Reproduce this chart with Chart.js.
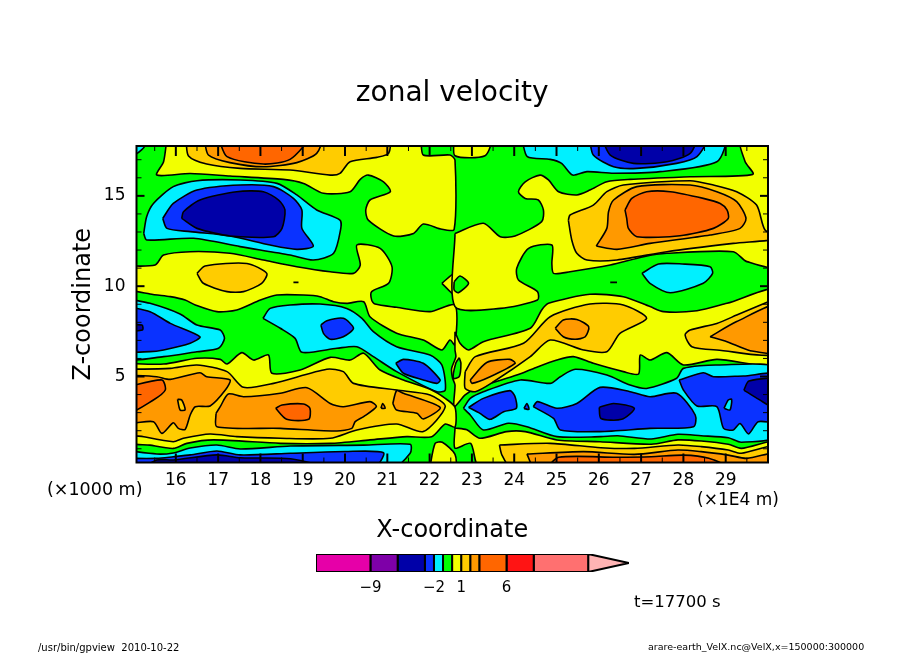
<!DOCTYPE html>
<html>
<head>
<meta charset="utf-8">
<title>zonal velocity</title>
<script src="https://cdn.jsdelivr.net/npm/chart.js@4"></script>
<style>
  html, body { margin: 0; background: #fff; }
  #wrap { position: relative; width: 904px; height: 654px; }
  canvas { position: absolute; left: 0; top: 0; }
</style>
</head>
<body>
<div id="wrap">
  <canvas id="field" width="904" height="654"></canvas>
  <canvas id="bar" width="904" height="654"></canvas>
</div>
<script>
// axis ticks, x in 1E4 m, z in 1000 m
var xMajor = [16, 17, 18, 19, 20, 21, 22, 23, 24, 25, 26, 27, 28, 29];
var xMinor = [15.5, 16.5, 17.5, 18.5, 19.5, 20.5, 21.5, 22.5, 23.5, 24.5, 25.5, 26.5, 27.5, 28.5, 29.5];
var zMajor = [5, 10, 15];
var zMinor = [1, 2, 3, 4, 6, 7, 8, 9, 11, 12, 13, 14, 16, 17];

// colour bar
var levels = [-15, -9, -6, -3, -2, -1, 0, 1, 2, 3, 6, 9, 15];
var levelTicks = [-9, -2, 1, 6];
var arrowTip = 19.5;

// contour regions, [x, z]; regions that run off the frame overshoot it
var greenBase = [[15, 0], [30.1, 0], [30.1, 18], [15, 18]];
var cornerCyan = [[15.04, 18.2], [15.27, 17.8], [15.06, 17.32], [14.8, 17.32]];
var yellowTop = [[15.79, 18.2], [15.71, 16.89], [15.55, 16.15], [16.34, 16.24], [17.28, 16.1], [18.54, 15.91], [19.02, 15.69], [19.49, 15.14], [20.12, 15.23], [20.36, 15.91], [20.55, 16.15], [20.91, 15.78], [21.07, 15.23], [20.59, 14.77], [20.49, 14.22], [20.55, 13.66], [21.15, 12.78], [21.62, 12.92], [21.85, 13.44], [22.29, 13.15], [22.58, 13.15], [22.6, 16.98], [22.48, 17.26], [21.85, 17.26], [21.74, 18.2]];
var amberTop = [[16.24, 18.2], [16.3, 17.2], [16.73, 16.76], [17.52, 16.52], [18.7, 16.43], [19.65, 16.15], [19.88, 16.24], [20.12, 16.89], [20.75, 17.13], [21.03, 17.35], [21.03, 18.2]];
var orangeTop = [[16.67, 18.2], [16.77, 17.26], [17.28, 16.84], [18.07, 16.61], [18.86, 16.84], [19.33, 17.35], [19.43, 18.2]];
var darkTop = [[17.01, 18.2], [17.21, 17.17], [18.07, 16.76], [18.7, 17.02], [19.1, 18.2]];
var cyanLeft = [[15.24, 12.92], [15.31, 13.85], [15.47, 14.58], [15.94, 15.51], [16.5, 15.84], [17.52, 15.88], [18.39, 15.69], [18.86, 15.05], [19.33, 14.22], [19.88, 13.66], [19.9, 13.2], [19.73, 11.82], [19.25, 11.45], [18.7, 11.73], [17.52, 12.19], [16.42, 12.65], [15.31, 12.56]];
var blueLeft = [[15.69, 13.75], [15.94, 14.58], [16.5, 15.32], [17.52, 15.6], [18.31, 15.51], [18.78, 14.86], [18.98, 14.22], [18.98, 13.2], [19.25, 12.22], [18.86, 12.04], [18.23, 12.28], [17.28, 12.78], [16.34, 13.02], [15.79, 13.2]];
var navyLeft = [[16.14, 13.75], [16.18, 14.12], [16.57, 14.77], [17.44, 15.23], [18.07, 15.23], [18.43, 14.77], [18.58, 14.22], [18.51, 13.2], [18.31, 12.74], [17.28, 12.78], [16.5, 13.2]];
var yellowMid = [[14.8, 11.12], [15.51, 11.17], [15.71, 11.72], [16.34, 11.91], [17.28, 11.82], [18.07, 11.45], [18.86, 11.08], [19.65, 10.8], [20.2, 10.71], [20.36, 11.17], [20.28, 12.28], [20.83, 12.09], [21.11, 11.08], [21.03, 10.16], [20.63, 9.7], [20.63, 9.23], [20.71, 9.01], [21.22, 8.83], [22.01, 8.59], [22.6, 8.96], [22.6, 6.74], [22.48, 7.02], [22.29, 6.47], [21.85, 7.02], [21.22, 7.4], [20.59, 8.31], [20.44, 9.14], [20.04, 9.05], [19.73, 9.14], [19.41, 9.42], [19.02, 9.51], [18.39, 9.51], [18.0, 9.23], [17.44, 8.68], [16.97, 8.59], [16.46, 8.96], [16.22, 9.23], [15.87, 9.42], [15.39, 9.57], [14.8, 9.94]];
var yellowWedge = [[22.29, 10.16], [22.6, 10.71], [22.6, 9.51]];
var amberMid = [[16.5, 10.71], [16.69, 11.12], [17.68, 11.26], [18.15, 10.71], [18.03, 10.16], [17.6, 9.7], [17.21, 9.7], [16.65, 10.16]];
var dashLeft = [[18.78, 10.21], [18.9, 10.21]];
var dashRight = [[26.27, 10.21], [26.43, 10.21]];
var yellowRight = [[22.6, 12.92], [23.27, 13.48], [23.67, 12.74], [24.02, 12.78], [24.65, 13.57], [24.69, 14.22], [24.57, 14.77], [24.26, 14.86], [24.1, 15.23], [24.26, 15.78], [24.61, 16.15], [24.81, 15.88], [25.05, 15.23], [25.48, 15.05], [25.79, 15.32], [26.19, 15.78], [26.74, 15.91], [28.16, 16.06], [29.64, 16.19], [29.46, 16.89], [29.34, 18.2], [30.3, 18.2], [30.3, 11.12], [29.5, 11.36], [29.18, 11.91], [27.61, 11.82], [27.06, 11.63], [26.27, 11.17], [25.32, 10.8], [24.93, 10.71], [24.89, 11.26], [24.89, 12.28], [24.34, 12.09], [24.06, 10.99], [24.1, 10.34], [24.55, 9.7], [24.55, 9.23], [23.67, 8.77], [22.6, 8.87]];
var amberRight = [[25.28, 13.66], [25.32, 13.94], [25.87, 14.49], [26.19, 15.23], [26.58, 15.6], [28.16, 15.84], [28.71, 15.6], [29.26, 15.23], [29.73, 14.49], [29.93, 13.11], [30.3, 12.65], [29.18, 12.37], [27.61, 11.91], [26.43, 11.45], [25.72, 11.45], [25.48, 11.82], [25.36, 12.56]];
var orangeRight = [[25.94, 12.22], [26.19, 13.2], [26.23, 14.12], [26.35, 14.77], [26.9, 15.51], [28.16, 15.6], [28.79, 15.23], [29.26, 14.68], [29.48, 13.75], [29.34, 13.2], [28.63, 12.83], [27.21, 12.37], [26.43, 12.04]];
var darkRight = [[26.62, 14.22], [26.78, 14.86], [27.13, 15.23], [27.69, 15.23], [28.47, 14.86], [28.87, 14.58], [29.03, 14.22], [29.06, 13.75], [28.71, 13.2], [27.92, 12.79], [26.9, 12.74], [26.7, 13.2], [26.66, 13.75]];
var yellowTopMid = [[22.58, 18.2], [23.45, 18.2], [23.31, 17.22], [22.6, 17.22]];
var cyanTopRight = [[24.18, 18.2], [24.31, 17.17], [24.85, 17.02], [25.12, 16.8], [25.38, 16.15], [25.72, 16.34], [26.35, 16.25], [27.45, 16.34], [28.79, 16.89], [28.96, 18.2]];
var blueTopRight = [[25.78, 18.2], [25.87, 17.26], [26.35, 16.61], [26.9, 16.52], [27.84, 16.8], [28.32, 17.17], [28.54, 18.2]];
var navyTopRight = [[26.07, 18.2], [26.27, 17.26], [26.82, 16.8], [27.61, 16.89], [28.16, 17.35], [28.28, 18.2]];
var cyanBlob = [[27.02, 10.71], [27.41, 11.23], [27.97, 11.23], [28.63, 11.08], [28.69, 10.71], [28.47, 10.16], [27.69, 9.64], [27.21, 10.16]];
var greenDot = [[22.58, 10.25], [22.72, 10.56], [22.92, 10.16], [22.68, 9.64], [22.58, 9.79]];
var yellowLowRight = [[22.6, 7.48], [22.72, 6.84], [22.92, 6.47], [23.27, 6.93], [24.38, 7.67], [24.65, 8.68], [24.81, 9.05], [25.79, 9.55], [26.58, 9.42], [27.21, 8.87], [27.53, 8.59], [28.32, 8.64], [29.03, 9.05], [30.3, 9.82], [30.3, 5.73], [28.79, 5.95], [28.0, 5.64], [27.61, 6.32], [27.21, 5.91], [26.98, 6.19], [26.94, 5.14], [26.58, 5.27], [25.87, 5.73], [25.4, 6.1], [25.01, 5.91], [24.46, 5.45], [24.06, 5.08], [23.15, 4.4], [22.84, 3.98], [22.58, 3.33], [22.6, 4.53], [22.54, 4.93], [22.52, 5.45], [22.62, 6.09], [22.6, 6.47]];
var greenOval = [[22.7, 6.04], [22.74, 5.73], [22.7, 4.99], [22.56, 4.9], [22.62, 5.75]];
var amberLowRight = [[22.84, 5.27], [23.08, 6.1], [24.22, 6.84], [24.85, 8.31], [25.79, 9.01], [26.58, 8.96], [27.13, 8.22], [26.5, 7.39], [26.19, 6.37], [25.64, 6.47], [24.85, 7.02], [24.38, 6.1], [23.51, 4.71], [23.08, 4.16], [22.84, 4.34]];
var orangeLowRight = [[24.97, 7.67], [25.16, 8.13], [25.48, 8.16], [25.76, 7.76], [25.68, 7.2], [25.44, 7.06], [25.16, 7.2]];
var orangeCenter = [[22.96, 4.81], [23.35, 5.78], [23.9, 5.95], [24.02, 5.73], [23.43, 4.99], [23.0, 4.62]];
var amberEdge = [[30.3, 9.43], [29.26, 8.4], [28.79, 7.94], [28.16, 7.57], [28.04, 7.3], [28.2, 6.65], [28.79, 6.47], [30.3, 6.32]];
var orangeEdge = [[28.63, 7.2], [29.26, 8.04], [30.3, 9.0], [30.3, 6.37], [29.58, 6.43], [29.03, 6.93]];
var cyanLowRight = [[22.8, 3.24], [22.96, 3.79], [23.27, 4.16], [24.14, 4.81], [24.85, 4.62], [25.09, 4.99], [25.44, 5.4], [26.19, 5.08], [26.74, 4.53], [27.13, 4.34], [27.84, 4.9], [28.0, 5.45], [28.79, 5.64], [30.3, 5.4], [30.3, 1.78], [29.37, 1.36], [29.06, 1.61], [28.42, 1.72], [27.87, 1.8], [27.24, 1.54], [26.45, 1.72], [26.05, 1.67], [25.01, 1.67], [24.3, 2.22], [23.86, 2.41], [23.27, 2.04], [22.96, 2.87]];
var blueA = [[22.92, 3.29], [23.27, 3.79], [23.9, 4.22], [24.02, 3.88], [24.05, 3.24], [23.75, 3.05], [23.43, 2.63], [23.19, 2.96]];
var blueB = [[24.45, 3.33], [24.55, 3.61], [25.01, 3.24], [25.48, 3.51], [26.03, 4.4], [26.74, 4.16], [27.21, 3.88], [27.84, 4.07], [28.28, 2.87], [28.24, 2.22], [27.21, 2.13], [26.03, 1.95], [25.09, 2.04], [24.93, 2.68]];
var blueC = [[27.9, 4.81], [28.47, 5.21], [28.71, 4.99], [29.42, 5.03], [30.3, 5.08], [30.3, 2.5], [29.77, 2.5], [29.54, 1.82], [29.34, 2.4], [29.18, 2.04], [28.95, 2.13], [28.79, 3.33], [28.32, 3.37], [28.0, 4.25]];
var cyanHole = [[28.96, 3.24], [29.06, 3.7], [29.14, 3.74], [29.1, 3.15]];
var navyEdge = [[29.43, 4.25], [29.55, 4.75], [30.3, 4.81], [30.3, 3.13], [29.74, 3.79]];
var navyMid = [[26.01, 3.29], [26.35, 3.51], [26.84, 3.24], [26.54, 2.63], [26.05, 2.68]];
var blueTear = [[24.23, 3.23], [24.3, 3.51], [24.35, 3.18]];
var yellowFloor = [[22.6, 2.15], [22.88, 2.05], [23.19, 1.58], [23.82, 1.95], [24.26, 1.95], [25.01, 1.49], [26.03, 1.39], [27.24, 1.25], [27.87, 1.49], [28.42, 1.43], [29.06, 1.25], [29.37, 1.02], [30.3, 1.45], [30.3, -0.1], [23.2, -0.1], [22.97, 1.3], [22.6, 1.03]];
var amberFloor = [[23.65, 1.21], [24.85, 1.3], [26.05, 1.06], [26.84, 1.02], [27.87, 1.21], [28.42, 1.12], [29.06, 0.93], [29.37, 0.75], [30.3, 1.2], [30.3, -0.1], [23.95, -0.1], [23.71, 0.65]];
var orangeFloor = [[24.3, 0.71], [25.64, 0.84], [26.84, 0.69], [27.87, 0.93], [28.42, 0.84], [29.06, 0.65], [29.5, 0.47], [30.3, 0.8], [30.3, -0.1], [24.5, -0.1]];
var darkFloor = [[24.75, -0.1], [25.05, 0.53], [26.42, 0.53], [27.24, 0.56], [28.0, 0.65], [28.6, 0.47], [29.1, -0.1]];
var cyanEdge = [[14.8, 9.33], [15.39, 9.05], [16.1, 8.46], [16.5, 7.85], [17.05, 7.57], [17.15, 7.11], [17.01, 6.56], [16.5, 6.37], [15.71, 6.1], [14.8, 6.06]];
var blueEdge = [[14.8, 8.9], [15.39, 8.59], [15.87, 7.94], [16.57, 7.2], [16.34, 6.84], [15.71, 6.47], [15.39, 6.38], [14.8, 6.47]];
var navySpot = [[14.8, 7.85], [15.2, 7.85], [15.21, 7.57], [14.8, 7.54]];
var cyanMid = [[18.06, 8.22], [18.23, 8.77], [18.7, 8.96], [19.41, 9.01], [20.04, 8.77], [20.4, 8.22], [20.67, 7.48], [21.22, 6.65], [22.01, 6.19], [22.29, 5.64], [22.37, 4.25], [22.17, 4.16], [21.22, 5.27], [20.67, 6.1], [20.28, 6.65], [19.81, 6.56], [18.98, 6.34], [18.82, 7.11], [18.47, 7.67]];
var blueMidA = [[19.43, 7.85], [19.57, 8.09], [19.96, 8.22], [20.2, 7.67], [19.96, 7.2], [19.65, 7.06], [19.49, 7.39]];
var blueMidB = [[21.2, 5.73], [21.38, 5.95], [21.85, 5.73], [22.25, 4.81], [22.17, 4.62], [21.85, 4.81], [21.38, 5.18]];
var yellowLowLeft = [[14.8, 5.73], [15.71, 5.69], [16.5, 6.01], [17.05, 5.95], [17.21, 5.69], [17.56, 6.32], [17.84, 5.91], [18.19, 6.19], [18.27, 5.18], [18.94, 5.36], [19.65, 6.06], [20.12, 5.91], [20.44, 6.29], [20.83, 5.36], [21.38, 4.81], [22.01, 4.29], [22.37, 3.79], [22.6, 3.3], [22.6, 2.2], [22.37, 2.37], [22.05, 1.67], [21.46, 1.67], [20.59, 1.49], [19.65, 1.3], [18.47, 1.3], [16.89, 1.49], [16.26, 1.3], [15.94, 1.02], [15.39, 1.2], [14.8, 1.45]];
var amberLowLeft = [[14.8, 5.4], [15.87, 5.45], [16.5, 5.64], [17.21, 5.27], [17.6, 4.4], [18.31, 4.62], [19.57, 5.4], [19.96, 5.27], [20.2, 4.62], [21.22, 4.25], [22.01, 3.98], [22.37, 3.33], [21.85, 1.95], [21.22, 2.37], [20.28, 2.04], [19.65, 1.58], [18.47, 1.58], [17.44, 1.67], [16.81, 1.82], [16.18, 1.58], [15.94, 1.39], [15.24, 1.67], [14.8, 1.92]];
var orangeA = [[14.8, 5.08], [15.55, 4.99], [15.87, 4.84], [16.57, 5.21], [16.73, 4.99], [17.28, 4.81], [17.17, 4.25], [16.81, 3.37], [16.46, 3.33], [16.34, 2.87], [16.22, 2.07], [16.06, 2.13], [15.94, 2.44], [15.67, 1.85], [15.47, 2.5], [14.8, 2.5]];
var darkA = [[14.8, 4.4], [15.67, 4.81], [15.75, 4.25], [15.47, 3.7], [14.8, 2.9]];
var amberHole = [[16.04, 3.74], [16.14, 3.7], [16.22, 3.15], [16.1, 3.15]];
var orangeB = [[16.95, 2.96], [17.05, 3.33], [17.24, 4.03], [17.6, 3.88], [18.47, 4.07], [19.1, 4.38], [19.65, 3.51], [19.96, 3.33], [20.59, 3.61], [20.74, 3.33], [20.44, 2.78], [20.24, 2.5], [20.16, 2.13], [19.81, 1.98], [18.47, 2.13], [16.97, 2.22]];
var darkB = [[18.36, 3.24], [18.51, 3.42], [19.02, 3.48], [19.17, 3.24], [19.14, 2.63], [18.62, 2.63]];
var orangeTear = [[20.85, 3.24], [20.89, 3.51], [20.95, 3.24]];
var orangeC = [[21.13, 3.51], [21.22, 4.22], [21.38, 4.07], [22.25, 3.29], [21.85, 2.65], [21.7, 2.96], [21.22, 3.15]];
var cyanFloor = [[14.8, 0.92], [15.55, 0.71], [15.94, 0.77], [16.34, 1.04], [16.97, 1.21], [17.52, 0.99], [18.71, 1.15], [20.44, 1.2], [21.54, 1.25], [21.54, 0.75], [21.1, -0.1], [14.8, -0.1]];
var blueFloor = [[14.8, 0.47], [15.55, 0.47], [15.94, 0.56], [16.34, 0.66], [16.97, 0.88], [17.52, 0.66], [18.71, 0.75], [20.0, 0.85], [20.91, 0.78], [20.65, -0.1], [14.8, -0.1]];
var navyFloor = [[15.2, -0.1], [15.55, 0.38], [15.94, 0.38], [16.97, 0.66], [17.52, 0.5], [18.71, 0.45], [19.6, -0.1]];
var yellowBlob = [[22.0, -0.1], [22.13, 1.3], [22.3, 1.36], [22.6, 0.69], [22.6, -0.1]];

var NAVY = '#0000a8', BLUE = '#0a32ff', CYAN = '#00f0ff', GREEN = '#00ff00', YELLOW = '#f2ff00',
  AMBER = '#ffcc00', ORANGE = '#ff9900', DARK = '#ff6600', RED = '#ff1414', SALMON = '#ff7070',
  MAGENTA = '#e600a8', PURPLE = '#7e00a8', PINK = '#ffb4b4';
var bandColors = [MAGENTA, PURPLE, NAVY, BLUE, CYAN, GREEN, YELLOW, AMBER, ORANGE, DARK, RED, SALMON];

// back to front
var layers = [
  [cornerCyan, CYAN],
  [yellowTop, YELLOW], [amberTop, AMBER], [orangeTop, ORANGE], [darkTop, DARK],
  [cyanLeft, CYAN], [blueLeft, BLUE], [navyLeft, NAVY],
  [yellowMid, YELLOW], [yellowWedge, YELLOW], [amberMid, AMBER],
  [yellowRight, YELLOW], [amberRight, AMBER], [orangeRight, ORANGE], [darkRight, DARK],
  [yellowTopMid, YELLOW], [cyanTopRight, CYAN], [blueTopRight, BLUE], [navyTopRight, NAVY],
  [cyanBlob, CYAN], [greenDot, GREEN],
  [yellowLowRight, YELLOW], [greenOval, GREEN], [amberLowRight, AMBER], [orangeLowRight, ORANGE], [orangeCenter, ORANGE],
  [amberEdge, AMBER], [orangeEdge, ORANGE],
  [cyanLowRight, CYAN], [blueA, BLUE], [blueB, BLUE], [blueC, BLUE], [cyanHole, CYAN], [navyEdge, NAVY], [navyMid, NAVY], [blueTear, BLUE],
  [yellowFloor, YELLOW], [amberFloor, AMBER], [orangeFloor, ORANGE], [darkFloor, DARK],
  [cyanEdge, CYAN], [blueEdge, BLUE], [navySpot, NAVY],
  [cyanMid, CYAN], [blueMidA, BLUE], [blueMidB, BLUE],
  [yellowLowLeft, YELLOW], [amberLowLeft, AMBER], [orangeA, ORANGE], [darkA, DARK], [amberHole, AMBER],
  [orangeB, ORANGE], [darkB, DARK], [orangeTear, ORANGE], [orangeC, ORANGE],
  [cyanFloor, CYAN], [blueFloor, BLUE], [navyFloor, NAVY], [yellowBlob, YELLOW],
  [dashLeft, '#000000'], [dashRight, '#000000']
];

var FONT = '"DejaVu Sans", sans-serif';

function closed(poly) {
  return poly.concat([poly[0]]);
}

function shape(poly, color, tension, width) {
  return {
    data: closed(poly),
    showLine: true,
    fill: 'shape',
    backgroundColor: color,
    borderColor: '#000000',
    borderWidth: width,
    pointRadius: 0,
    pointHoverRadius: 0,
    tension: tension
  };
}

// inward tick marks on all four sides plus the frame
var framePlugin = {
  id: 'frame',
  afterDatasetsDraw: function (chart) {
    var c = chart.ctx, a = chart.chartArea, x = chart.scales.x, y = chart.scales.y;
    function seg(x1, y1, x2, y2, w) {
      c.lineWidth = w;
      c.beginPath();
      c.moveTo(x1, y1);
      c.lineTo(x2, y2);
      c.stroke();
    }
    c.save();
    c.strokeStyle = '#000000';
    xMajor.forEach(function (v) {
      var p = x.getPixelForValue(v);
      seg(p, a.bottom, p, a.bottom - 9, 2);
      seg(p, a.top, p, a.top + 10, 2);
    });
    xMinor.forEach(function (v) {
      var p = x.getPixelForValue(v);
      seg(p, a.bottom, p, a.bottom - 5, 1);
      seg(p, a.top, p, a.top + 5, 1);
    });
    zMajor.forEach(function (v) {
      var p = y.getPixelForValue(v);
      seg(a.left, p, a.left + 8, p, 2);
      seg(a.right, p, a.right - 8, p, 2);
    });
    zMinor.forEach(function (v) {
      var p = y.getPixelForValue(v);
      seg(a.left, p, a.left + 5, p, 1);
      seg(a.right, p, a.right - 5, p, 1);
    });
    c.lineWidth = 2;
    c.strokeRect(a.left, a.top, a.right - a.left, a.bottom - a.top);
    c.restore();
  }
};

// loose text around the plot
var notePlugin = {
  id: 'notes',
  afterDraw: function (chart) {
    var c = chart.ctx;
    function put(s, x, y, size) {
      c.font = size + 'px ' + FONT;
      c.fillText(s, x, y);
    }
    c.save();
    c.fillStyle = '#000000';
    c.textBaseline = 'middle';
    put('(\u00d71000 m)', 47, 490, 17.5);
    put('(\u00d71E4 m)', 697, 501, 17);
    put('t=17700 s', 634, 603, 16.5);
    put('/usr/bin/gpview  2010-10-22', 38, 648, 10);
    put('arare-earth_VelX.nc@VelX,x=150000:300000', 648, 648, 9.5);
    c.restore();
  }
};

var fieldSets = layers.map(function (l) { return shape(l[0], l[1], 0.25, 1.6); }).reverse();
fieldSets.push(shape(greenBase, GREEN, 0, 0));

new Chart(document.getElementById('field'), {
  type: 'scatter',
  data: { datasets: fieldSets },
  plugins: [framePlugin, notePlugin],
  options: {
    responsive: false,
    animation: false,
    devicePixelRatio: 1,
    layout: { padding: { left: 66.5, right: 136, top: 77, bottom: 108.5 } },
    plugins: {
      legend: { display: false },
      tooltip: { enabled: false },
      title: {
        display: true,
        fullSize: false,
        text: 'zonal velocity',
        color: '#000000',
        font: { family: FONT, size: 28, weight: 'normal', lineHeight: 1.2 },
        padding: { top: 0, bottom: 35.4 }
      }
    },
    scales: {
      x: {
        type: 'linear',
        min: 15.07,
        max: 30,
        grid: { display: false },
        border: { display: false },
        afterBuildTicks: function (s) { s.ticks = xMajor.map(function (v) { return { value: v }; }); },
        afterFit: function (s) { s.height = 83; },
        ticks: { color: '#000000', padding: 0, autoSkip: false, maxRotation: 0, font: { family: FONT, size: 17 } },
        title: { display: true, text: 'X-coordinate', color: '#000000', padding: 0, font: { family: FONT, size: 24 } }
      },
      y: {
        type: 'linear',
        min: 0.24,
        max: 17.76,
        grid: { display: false },
        border: { display: false },
        afterBuildTicks: function (s) { s.ticks = zMajor.map(function (v) { return { value: v }; }); },
        afterFit: function (s) { s.width = 70; },
        ticks: { color: '#000000', padding: 3, autoSkip: false, font: { family: FONT, size: 17 } },
        title: { display: true, text: 'Z-coordinate', color: '#000000', padding: 3, font: { family: FONT, size: 24 } }
      }
    }
  }
});

var barShapes = levels.slice(0, -1).map(function (lo, i) {
  var hi = levels[i + 1];
  return shape([[lo, 0], [hi, 0], [hi, 1], [lo, 1]], bandColors[i], 0, 2);
});
barShapes.push(shape([[levels[levels.length - 1], 0], [arrowTip, 0.5], [levels[levels.length - 1], 1]], PINK, 0, 2));

new Chart(document.getElementById('bar'), {
  type: 'scatter',
  data: { datasets: barShapes },
  options: {
    responsive: false,
    animation: false,
    devicePixelRatio: 1,
    layout: { padding: { left: 316, right: 275, top: 554, bottom: 52 } },
    plugins: { legend: { display: false }, tooltip: { enabled: false } },
    scales: {
      x: {
        type: 'linear',
        min: -15,
        max: arrowTip,
        grid: { display: false },
        border: { display: false },
        afterBuildTicks: function (s) { s.ticks = levelTicks.map(function (v) { return { value: v }; }); },
        afterFit: function (s) { s.height = 30; },
        ticks: {
          color: '#000000',
          padding: -1,
          autoSkip: false,
          maxRotation: 0,
          font: { family: FONT, size: 15 },
          callback: function (v) { return String(v).replace('-', '\u2212'); }
        }
      },
      y: { type: 'linear', min: 0, max: 1, display: false }
    }
  }
});
</script>
</body>
</html>
